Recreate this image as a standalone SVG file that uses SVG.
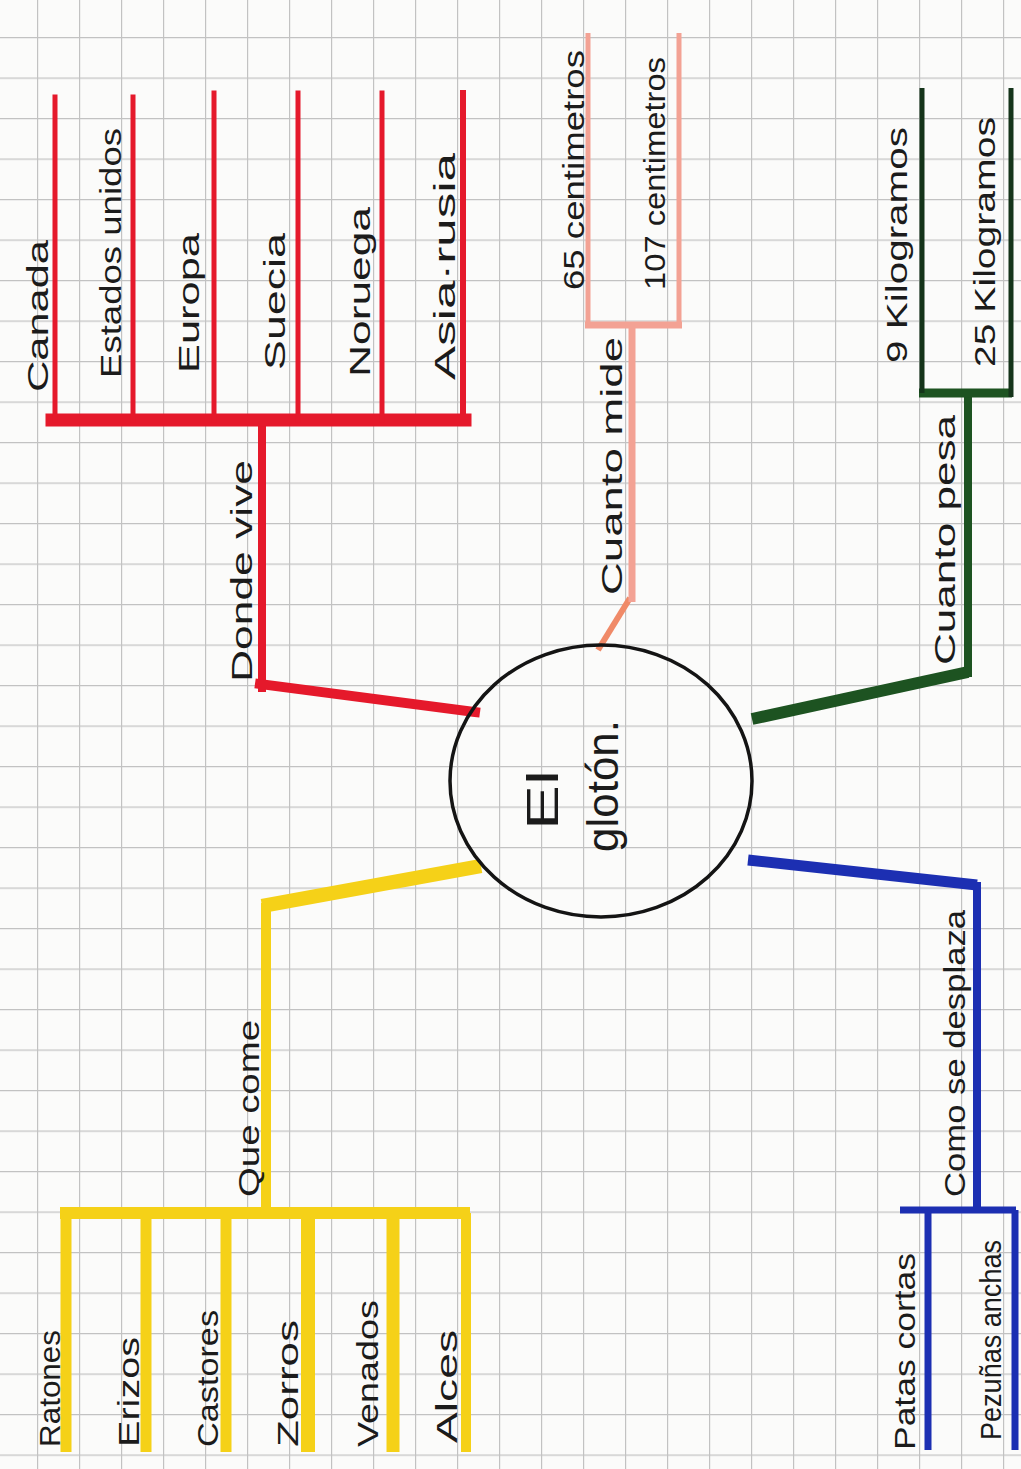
<svg xmlns="http://www.w3.org/2000/svg" width="1021" height="1469" viewBox="0 0 1021 1469">
<defs>
<pattern id="grid" x="37" y="37" width="42" height="40.5" patternUnits="userSpaceOnUse">
<path d="M0 0.6H42M0.6 0V40.5" stroke="#c2c2c2" stroke-width="1.2" fill="none"/>
</pattern>
<style>
text{font-family:"Liberation Sans","DejaVu Sans",sans-serif;font-size:30px;fill:#1b1b1b}
.c{font-size:44px}
.red{stroke:#e5192b;fill:none;stroke-linecap:square}
.pink{stroke:#f3a294;fill:none}
.green{stroke:#1d5321;fill:none}
.dgreen{stroke:#15341a;fill:none}
.blue{stroke:#1c2fb2;fill:none}
.yellow{stroke:#f5d118;fill:none}
</style>
</defs>
<rect width="1021" height="1469" fill="#fbfbfa"/>
<rect width="1021" height="1469" fill="url(#grid)"/>

<g id="connectors">
<!-- red: Donde vive -->
<line class="red" x1="475" y1="712" x2="260" y2="684" stroke-width="10"/>
<line class="red" x1="262" y1="688" x2="262" y2="420" stroke-width="8"/>
<line class="red" x1="52" y1="420" x2="465" y2="420" stroke-width="13"/>
<line class="red" x1="55" y1="420" x2="55" y2="97" stroke-width="5"/>
<line class="red" x1="133" y1="420" x2="133" y2="97" stroke-width="5"/>
<line class="red" x1="214" y1="420" x2="214" y2="93" stroke-width="5"/>
<line class="red" x1="298" y1="420" x2="298" y2="93" stroke-width="5"/>
<line class="red" x1="382" y1="420" x2="382" y2="93" stroke-width="5"/>
<line class="red" x1="463" y1="420" x2="463" y2="93" stroke-width="6"/>
<!-- pink: Cuanto mide -->
<line x1="598" y1="650" x2="630" y2="598" stroke="#f08a68" stroke-width="6"/>
<line class="pink" x1="632" y1="602" x2="632" y2="325" stroke-width="7"/>
<line class="pink" x1="585" y1="325" x2="682" y2="325" stroke-width="7"/>
<line class="pink" x1="588" y1="325" x2="588" y2="33" stroke-width="5"/>
<line class="pink" x1="679" y1="325" x2="679" y2="33" stroke-width="5"/>
<!-- green: Cuanto pesa -->
<line class="green" x1="752" y1="719" x2="968" y2="672" stroke-width="12"/>
<line class="green" x1="968" y1="677" x2="968" y2="393" stroke-width="8"/>
<line class="green" x1="919" y1="393" x2="1012" y2="393" stroke-width="9"/>
<line class="dgreen" x1="922" y1="393" x2="922" y2="88" stroke-width="5"/>
<line class="dgreen" x1="1011" y1="397" x2="1011" y2="88" stroke-width="5"/>
<!-- blue: Como se desplaza -->
<line class="blue" x1="748" y1="860" x2="977" y2="885" stroke-width="11"/>
<line class="blue" x1="977" y1="882" x2="977" y2="1210" stroke-width="8"/>
<line class="blue" x1="900" y1="1210" x2="1016" y2="1210" stroke-width="7"/>
<line class="blue" x1="928" y1="1210" x2="928" y2="1450" stroke-width="7"/>
<line class="blue" x1="1015" y1="1210" x2="1015" y2="1450" stroke-width="7"/>
<!-- yellow: Que come -->
<line class="yellow" x1="481" y1="866" x2="262" y2="906" stroke-width="14"/>
<line class="yellow" x1="266" y1="903" x2="266" y2="1212" stroke-width="10"/>
<line class="yellow" x1="60" y1="1213" x2="470" y2="1213" stroke-width="12"/>
<line class="yellow" x1="66" y1="1213" x2="66" y2="1452" stroke-width="11"/>
<line class="yellow" x1="146" y1="1213" x2="146" y2="1452" stroke-width="11"/>
<line class="yellow" x1="226" y1="1213" x2="226" y2="1452" stroke-width="11"/>
<line class="yellow" x1="308" y1="1213" x2="308" y2="1452" stroke-width="14"/>
<line class="yellow" x1="393" y1="1213" x2="393" y2="1452" stroke-width="13"/>
<line class="yellow" x1="466" y1="1213" x2="466" y2="1452" stroke-width="10"/>
</g>

<g id="center">
<ellipse cx="601" cy="781" rx="151" ry="136" fill="none" stroke="#141414" stroke-width="3.5"/>
<text class="c" transform="translate(558 830) rotate(-90)" textLength="60" lengthAdjust="spacingAndGlyphs">El</text>
<text class="c" transform="translate(618 852) rotate(-90)" textLength="132" lengthAdjust="spacingAndGlyphs">glotón.</text>
</g>

<g id="donde-vive">
<text transform="translate(252 682) rotate(-90)" textLength="222" lengthAdjust="spacingAndGlyphs">Donde vive</text>
</g>
<g id="canada"><text transform="translate(48 392) rotate(-90)" textLength="152" lengthAdjust="spacingAndGlyphs">Canada</text></g>
<g id="estados-unidos"><text transform="translate(121 378) rotate(-90)" textLength="250" lengthAdjust="spacingAndGlyphs">Estados unidos</text></g>
<g id="europa"><text transform="translate(199 373) rotate(-90)" textLength="140" lengthAdjust="spacingAndGlyphs">Europa</text></g>
<g id="suecia"><text transform="translate(285 370) rotate(-90)" textLength="137" lengthAdjust="spacingAndGlyphs">Suecia</text></g>
<g id="noruega"><text transform="translate(370 377) rotate(-90)" textLength="170" lengthAdjust="spacingAndGlyphs">Noruega</text></g>
<g id="asia-rusia"><text transform="translate(455 380) rotate(-90)" textLength="227" lengthAdjust="spacingAndGlyphs">Asia·rusia</text></g>

<g id="cuanto-mide"><text transform="translate(622 595) rotate(-90)" textLength="258" lengthAdjust="spacingAndGlyphs">Cuanto mide</text></g>
<g id="cm65"><text transform="translate(584 290) rotate(-90)" textLength="240" lengthAdjust="spacingAndGlyphs">65 centimetros</text></g>
<g id="cm107"><text transform="translate(665 290) rotate(-90)" textLength="233" lengthAdjust="spacingAndGlyphs">107 centimetros</text></g>

<g id="cuanto-pesa"><text transform="translate(955 665) rotate(-90)" textLength="250" lengthAdjust="spacingAndGlyphs">Cuanto pesa</text></g>
<g id="kg9"><text transform="translate(907 363) rotate(-90)" textLength="236" lengthAdjust="spacingAndGlyphs">9 Kilogramos</text></g>
<g id="kg25"><text transform="translate(995 367) rotate(-90)" textLength="250" lengthAdjust="spacingAndGlyphs">25 Kilogramos</text></g>

<g id="como-se-desplaza"><text transform="translate(965 1197) rotate(-90)" textLength="287" lengthAdjust="spacingAndGlyphs">Como se desplaza</text></g>
<g id="patas-cortas"><text transform="translate(915 1450) rotate(-90)" textLength="197" lengthAdjust="spacingAndGlyphs">Patas cortas</text></g>
<g id="pezunas-anchas"><text transform="translate(1001 1440) rotate(-90)" textLength="200" lengthAdjust="spacingAndGlyphs">Pezuñas anchas</text></g>

<g id="que-come"><text transform="translate(259 1197) rotate(-90)" textLength="177" lengthAdjust="spacingAndGlyphs">Que come</text></g>
<g id="ratones"><text transform="translate(60 1447) rotate(-90)" textLength="117" lengthAdjust="spacingAndGlyphs">Ratones</text></g>
<g id="erizos"><text transform="translate(139 1447) rotate(-90)" textLength="110" lengthAdjust="spacingAndGlyphs">Erizos</text></g>
<g id="castores"><text transform="translate(218 1447) rotate(-90)" textLength="137" lengthAdjust="spacingAndGlyphs">Castores</text></g>
<g id="zorros"><text transform="translate(298 1447) rotate(-90)" textLength="127" lengthAdjust="spacingAndGlyphs">Zorros</text></g>
<g id="venados"><text transform="translate(378 1447) rotate(-90)" textLength="147" lengthAdjust="spacingAndGlyphs">Venados</text></g>
<g id="alces"><text transform="translate(457 1443) rotate(-90)" textLength="113" lengthAdjust="spacingAndGlyphs">Alces</text></g>
</svg>
